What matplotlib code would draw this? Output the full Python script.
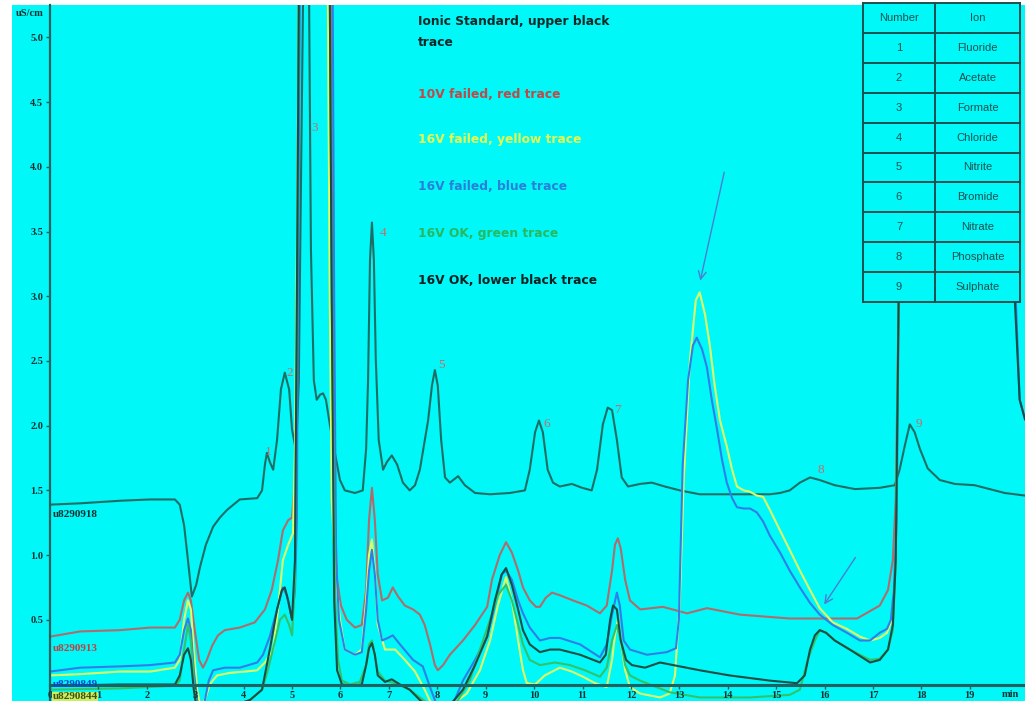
import numpy as np
import matplotlib
matplotlib.use("Agg")
import matplotlib.pyplot as plt
from matplotlib.patches import Rectangle

# ---------------- data (minutes, uS/cm) ----------------
upper_black = [(0, 1.39), (0.62, 1.40), (1.45, 1.42), (2.07, 1.43), (2.58, 1.43), (2.68, 1.39), (2.77, 1.23),
               (2.85, 0.96), (2.93, 0.68), (3.02, 0.77), (3.10, 0.91), (3.22, 1.08), (3.37, 1.22), (3.51, 1.29),
               (3.66, 1.35), (3.92, 1.43), (4.28, 1.44), (4.38, 1.50), (4.44, 1.70), (4.48, 1.79), (4.54, 1.72),
               (4.61, 1.66), (4.69, 1.89), (4.77, 2.28), (4.85, 2.41), (4.94, 2.28), (5.00, 1.97), (5.06, 1.85),
               (5.10, 1.97), (5.14, 2.35), (5.18, 3.74), (5.23, 5.40), (5.29, 5.80), (5.35, 5.40), (5.39, 3.36),
               (5.45, 2.35), (5.51, 2.20), (5.58, 2.24), (5.64, 2.25), (5.70, 2.20), (5.78, 2.01), (5.89, 1.78),
               (5.99, 1.58), (6.09, 1.50), (6.30, 1.48), (6.46, 1.50), (6.53, 1.82), (6.57, 2.35), (6.61, 3.28),
               (6.65, 3.57), (6.69, 3.28), (6.73, 2.51), (6.79, 1.89), (6.88, 1.66), (6.96, 1.72), (7.06, 1.77),
               (7.17, 1.70), (7.29, 1.56), (7.43, 1.50), (7.54, 1.54), (7.64, 1.66), (7.81, 2.04), (7.89, 2.31),
               (7.95, 2.43), (8.01, 2.31), (8.08, 1.89), (8.16, 1.60), (8.26, 1.56), (8.43, 1.61), (8.57, 1.54),
               (8.78, 1.48), (9.09, 1.47), (9.50, 1.48), (9.81, 1.50), (9.91, 1.66), (10.02, 1.95), (10.10, 2.04),
               (10.18, 1.95), (10.28, 1.66), (10.39, 1.56), (10.53, 1.53), (10.78, 1.55), (10.99, 1.52),
               (11.19, 1.50), (11.30, 1.66), (11.42, 2.01), (11.52, 2.14), (11.61, 2.12), (11.71, 1.89),
               (11.81, 1.60), (11.94, 1.53), (12.19, 1.55), (12.43, 1.56), (12.70, 1.53), (13.01, 1.50),
               (13.42, 1.47), (13.84, 1.47), (14.46, 1.47), (14.87, 1.47), (15.08, 1.48), (15.28, 1.50),
               (15.49, 1.56), (15.70, 1.60), (15.90, 1.58), (16.21, 1.54), (16.63, 1.51), (17.14, 1.52),
               (17.45, 1.54), (17.55, 1.66), (17.66, 1.85), (17.76, 2.01), (17.86, 1.95), (17.97, 1.82),
               (18.13, 1.67), (18.38, 1.58), (18.69, 1.55), (19.10, 1.54), (19.41, 1.51), (19.72, 1.48),
               (20.14, 1.46)]

red_10v = [(0, 0.37), (0.62, 0.41), (1.45, 0.42), (2.07, 0.44), (2.58, 0.44), (2.68, 0.50), (2.77, 0.65),
           (2.85, 0.71), (2.91, 0.65), (2.99, 0.42), (3.08, 0.19), (3.16, 0.13), (3.24, 0.19), (3.35, 0.30),
           (3.47, 0.38), (3.61, 0.42), (3.92, 0.44), (4.23, 0.48), (4.44, 0.58), (4.58, 0.73), (4.71, 0.96),
           (4.81, 1.19), (4.92, 1.27), (5.00, 1.29), (5.06, 1.58), (5.10, 2.97), (5.14, 5.29), (5.45, 5.80),
           (5.80, 5.29), (5.84, 2.97), (5.89, 1.27), (5.93, 0.81), (6.01, 0.61), (6.13, 0.50), (6.30, 0.44),
           (6.44, 0.46), (6.53, 0.73), (6.59, 1.27), (6.65, 1.52), (6.71, 1.27), (6.77, 0.85), (6.86, 0.65),
           (6.98, 0.67), (7.08, 0.75), (7.19, 0.68), (7.33, 0.61), (7.50, 0.58), (7.64, 0.54), (7.74, 0.46),
           (7.85, 0.31), (7.95, 0.15), (8.01, 0.11), (8.12, 0.15), (8.26, 0.23), (8.53, 0.34), (8.78, 0.46),
           (9.03, 0.60), (9.13, 0.81), (9.29, 1.00), (9.42, 1.10), (9.54, 1.02), (9.67, 0.88), (9.77, 0.75),
           (9.91, 0.65), (10.04, 0.60), (10.12, 0.60), (10.24, 0.67), (10.37, 0.71), (10.53, 0.69),
           (10.80, 0.65), (11.09, 0.61), (11.36, 0.55), (11.50, 0.61), (11.61, 0.88), (11.67, 1.08),
           (11.73, 1.13), (11.79, 1.05), (11.88, 0.81), (11.98, 0.65), (12.19, 0.58), (12.66, 0.60),
           (13.16, 0.55), (13.57, 0.59), (14.25, 0.54), (15.28, 0.51), (16.67, 0.51), (17.14, 0.61),
           (17.31, 0.73), (17.41, 0.96), (17.47, 1.43), (17.53, 2.97), (17.58, 5.29), (17.70, 5.80),
           (20.14, 5.80)]

yellow_16v = [(0, 0.07), (0.62, 0.08), (1.45, 0.10), (2.07, 0.10), (2.58, 0.13), (2.68, 0.19), (2.77, 0.50),
              (2.85, 0.65), (2.91, 0.58), (2.97, 0.27), (3.04, -0.04), (3.10, -0.16), (3.20, -0.12),
              (3.30, 0.00), (3.45, 0.07), (3.72, 0.09), (4.03, 0.10), (4.28, 0.11), (4.44, 0.17), (4.61, 0.27),
              (4.71, 0.58), (4.81, 0.96), (4.92, 1.08), (5.02, 1.17), (5.06, 1.82), (5.10, 3.36), (5.14, 5.29),
              (5.45, 5.80), (5.74, 5.29), (5.78, 2.97), (5.82, 1.43), (5.89, 0.88), (5.99, 0.50), (6.09, 0.27),
              (6.30, 0.23), (6.44, 0.27), (6.53, 0.65), (6.59, 1.00), (6.65, 1.12), (6.71, 0.88), (6.77, 0.46),
              (6.92, 0.27), (7.13, 0.27), (7.33, 0.19), (7.54, 0.10), (7.74, -0.04), (7.89, -0.16),
              (8.16, -0.20), (8.43, -0.12), (8.61, -0.07), (8.88, 0.11), (9.09, 0.34), (9.25, 0.61),
              (9.42, 0.83), (9.54, 0.65), (9.67, 0.34), (9.77, 0.11), (9.85, 0.01), (10.02, 0.00),
              (10.22, 0.07), (10.53, 0.13), (10.78, 0.10), (11.01, 0.06), (11.26, 0.01), (11.50, -0.02),
              (11.61, 0.19), (11.67, 0.38), (11.73, 0.50), (11.79, 0.34), (11.88, 0.11), (11.98, -0.02),
              (12.19, -0.07), (12.60, -0.10), (12.80, -0.07), (12.91, 0.07), (13.01, 0.65), (13.09, 1.58),
              (13.22, 2.51), (13.34, 2.97), (13.42, 3.03), (13.53, 2.86), (13.63, 2.62), (13.73, 2.31),
              (13.84, 2.04), (13.98, 1.84), (14.09, 1.66), (14.19, 1.53), (14.33, 1.50), (14.46, 1.49),
              (14.60, 1.46), (14.73, 1.45), (14.87, 1.35), (15.08, 1.19), (15.28, 1.04), (15.49, 0.88),
              (15.70, 0.73), (15.90, 0.59), (16.17, 0.48), (16.46, 0.43), (16.73, 0.37), (16.94, 0.34),
              (17.14, 0.36), (17.29, 0.40), (17.39, 0.50), (17.47, 0.96), (17.53, 2.97), (17.58, 5.29),
              (17.70, 5.80), (20.14, 5.80)]

blue_16v = [(0, 0.10), (0.62, 0.13), (1.45, 0.14), (2.07, 0.15), (2.58, 0.17), (2.68, 0.23), (2.77, 0.42),
            (2.85, 0.51), (2.91, 0.42), (2.97, 0.11), (3.04, -0.12), (3.10, -0.23), (3.18, -0.16),
            (3.28, 0.03), (3.37, 0.11), (3.61, 0.13), (3.92, 0.13), (4.28, 0.17), (4.40, 0.23), (4.54, 0.37),
            (4.69, 0.58), (4.81, 0.75), (4.89, 0.69), (5.00, 0.50), (5.06, 0.73), (5.10, 1.27), (5.12, 2.97),
            (5.16, 5.29), (5.45, 5.80), (5.84, 5.29), (5.87, 2.97), (5.91, 0.96), (5.97, 0.50), (6.09, 0.27),
            (6.30, 0.23), (6.44, 0.25), (6.53, 0.58), (6.59, 0.88), (6.65, 1.04), (6.71, 0.85), (6.77, 0.50),
            (6.86, 0.34), (6.98, 0.36), (7.08, 0.38), (7.23, 0.31), (7.50, 0.19), (7.70, 0.14),
            (7.85, -0.02), (7.99, -0.16), (8.16, -0.20), (8.36, -0.12), (8.53, 0.03), (8.78, 0.19),
            (9.03, 0.37), (9.19, 0.61), (9.33, 0.85), (9.42, 0.88), (9.54, 0.81), (9.67, 0.65), (9.77, 0.55),
            (9.91, 0.44), (10.12, 0.34), (10.33, 0.36), (10.53, 0.36), (10.95, 0.31), (11.36, 0.21),
            (11.50, 0.31), (11.61, 0.54), (11.71, 0.71), (11.77, 0.61), (11.85, 0.34), (11.98, 0.27),
            (12.33, 0.23), (12.74, 0.25), (12.93, 0.28), (12.99, 0.50), (13.07, 1.70), (13.18, 2.35),
            (13.28, 2.62), (13.36, 2.68), (13.47, 2.59), (13.57, 2.45), (13.67, 2.20), (13.78, 1.97),
            (13.88, 1.74), (13.98, 1.56), (14.09, 1.44), (14.19, 1.37), (14.33, 1.36), (14.46, 1.36),
            (14.60, 1.33), (14.73, 1.26), (14.87, 1.15), (15.08, 1.02), (15.28, 0.88), (15.49, 0.75),
            (15.70, 0.63), (15.90, 0.54), (16.17, 0.46), (16.46, 0.40), (16.73, 0.34), (16.94, 0.34),
            (17.14, 0.40), (17.29, 0.43), (17.37, 0.50), (17.43, 0.73), (17.49, 1.27), (17.53, 2.97),
            (17.58, 5.29), (17.70, 5.80), (19.87, 5.80), (19.95, 2.97), (20.03, 2.20), (20.14, 2.05)]

green_16v_ok = [(0, -0.04), (1.45, -0.03), (2.58, -0.01), (2.68, 0.03), (2.77, 0.27), (2.85, 0.46),
                (2.91, 0.34), (2.97, 0.03), (3.04, -0.20), (3.41, -0.21), (4.13, -0.12), (4.38, -0.04),
                (4.50, 0.11), (4.65, 0.34), (4.75, 0.50), (4.85, 0.54), (4.94, 0.46), (5.00, 0.38),
                (5.06, 0.81), (5.10, 2.97), (5.14, 5.29), (5.45, 5.80), (5.78, 5.29), (5.82, 2.97),
                (5.89, 0.65), (5.95, 0.19), (6.03, 0.03), (6.20, 0.00), (6.40, 0.02), (6.53, 0.15),
                (6.59, 0.31), (6.65, 0.34), (6.71, 0.23), (6.77, 0.10), (6.92, 0.03), (7.13, 0.01),
                (7.43, -0.04), (7.85, -0.16), (8.16, -0.21), (8.43, -0.12), (8.67, 0.03), (8.88, 0.27),
                (9.09, 0.50), (9.25, 0.69), (9.42, 0.77), (9.54, 0.65), (9.67, 0.46), (9.77, 0.31),
                (9.91, 0.19), (10.12, 0.15), (10.43, 0.17), (10.74, 0.15), (11.05, 0.11), (11.36, 0.06),
                (11.50, 0.13), (11.61, 0.34), (11.71, 0.46), (11.79, 0.34), (11.88, 0.15), (11.98, 0.07),
                (12.19, 0.03), (12.39, 0.00), (12.80, -0.06), (13.42, -0.10), (14.46, -0.10), (15.28, -0.08),
                (15.49, -0.04), (15.65, 0.19), (15.80, 0.34), (15.90, 0.42), (16.03, 0.40), (16.21, 0.34),
                (16.52, 0.27), (16.94, 0.19), (17.14, 0.20), (17.31, 0.27), (17.41, 0.42), (17.47, 0.96),
                (17.53, 2.97), (17.58, 5.29), (17.70, 5.80), (20.14, 5.80)]

lower_black = [(0, -0.01), (1.45, 0.00), (2.58, 0.00), (2.68, 0.07), (2.77, 0.23), (2.85, 0.28), (2.91, 0.19),
               (2.97, -0.04), (3.04, -0.21), (3.41, -0.21), (4.13, -0.12), (4.38, -0.04), (4.54, 0.27),
               (4.69, 0.58), (4.79, 0.73), (4.85, 0.75), (4.92, 0.65), (5.00, 0.50), (5.06, 0.96),
               (5.10, 2.97), (5.14, 5.29), (5.45, 5.80), (5.78, 5.29), (5.82, 2.97), (5.87, 0.65),
               (5.93, 0.11), (6.03, 0.00), (6.24, -0.01), (6.44, 0.00), (6.53, 0.15), (6.59, 0.28),
               (6.65, 0.32), (6.71, 0.23), (6.77, 0.07), (6.92, 0.02), (7.06, 0.04), (7.23, 0.00),
               (7.43, -0.04), (7.64, -0.12), (7.95, -0.21), (8.26, -0.16), (8.53, -0.04), (8.78, 0.15),
               (9.03, 0.37), (9.19, 0.65), (9.33, 0.85), (9.42, 0.90), (9.54, 0.77), (9.67, 0.58),
               (9.77, 0.42), (9.91, 0.31), (10.12, 0.25), (10.33, 0.27), (10.53, 0.27), (10.95, 0.23),
               (11.36, 0.17), (11.48, 0.23), (11.57, 0.50), (11.63, 0.61), (11.71, 0.58), (11.79, 0.34),
               (11.90, 0.19), (12.02, 0.15), (12.29, 0.13), (12.60, 0.17), (13.01, 0.14), (13.42, 0.11),
               (14.04, 0.07), (14.87, 0.03), (15.43, 0.01), (15.59, 0.07), (15.70, 0.27), (15.80, 0.38),
               (15.90, 0.42), (16.03, 0.40), (16.21, 0.34), (16.52, 0.27), (16.94, 0.17), (17.14, 0.19),
               (17.31, 0.27), (17.41, 0.46), (17.47, 0.96), (17.53, 2.97), (17.58, 5.29), (17.70, 5.80),
               (19.83, 5.80), (19.93, 2.97), (20.03, 2.20), (20.14, 2.05)]

peak_labels = ["1", "2", "3", "4", "5", "6", "7", "8", "9"]
peak_label_pos = [(4.50, 1.80), (4.96, 2.41), (5.47, 4.30), (6.88, 3.49), (8.08, 2.47),
                  (10.26, 2.01), (11.73, 2.12), (15.92, 1.66), (17.95, 2.01)]

ion_numbers = ["1", "2", "3", "4", "5", "6", "7", "8", "9"]
ion_names = ["Fluoride", "Acetate", "Formate", "Chloride", "Nitrite", "Bromide", "Nitrate",
             "Phosphate", "Sulphate"]

legend_lines = ["Ionic Standard, upper black", "trace", "10V failed, red trace",
                "16V failed, yellow trace", "16V failed, blue trace", "16V OK, green trace",
                "16V OK, lower black trace"]

y_ticks = [0.5, 1.0, 1.5, 2.0, 2.5, 3.0, 3.5, 4.0, 4.5, 5.0]
x_ticks = list(range(0, 20))

# ---------------- figure ----------------
W, H = 1025, 701
fig = plt.figure(figsize=(W / 100, H / 100), dpi=100, facecolor="white")
CYAN = "#00f8f8"
fig.patches.append(Rectangle((12 / W, 0), 1 - 12 / W, 1 - 5 / H, transform=fig.transFigure,
                             facecolor=CYAN, edgecolor="none", zorder=-10))

ax = fig.add_axes([50 / W, 0, 975 / W, 696 / H])
ax.set_facecolor(CYAN)
ax.set_xlim(0, 20.14)
ax.set_ylim(-0.1275, 5.251)
ax.set_axisbelow(False)

AXC = "#1f6060"
TXC = "#163030"
for s in ["top", "right"]:
    ax.spines[s].set_visible(False)
ax.spines["left"].set_color(AXC)
ax.spines["left"].set_linewidth(1.6)
ax.spines["bottom"].set_position(("data", 0))
ax.spines["bottom"].set_color(AXC)
ax.spines["bottom"].set_linewidth(2.2)

tickfont = dict(family="Liberation Serif", weight="bold", size=7.5)
ax.set_yticks(y_ticks)
ax.set_yticklabels([f"{v:.1f}" for v in y_ticks], **tickfont, color=TXC)
ax.set_xticks(x_ticks)
ax.set_xticklabels([str(v) for v in x_ticks], **tickfont, color=TXC)
ax.tick_params(axis="both", direction="out", length=3, width=1, color=AXC, pad=2)
ax.text(19.83, -0.075, "min", ha="center", va="center", **tickfont, color=TXC, clip_on=False, zorder=4)
fig.text(30 / W, 1 - 14 / H, "uS/cm", ha="center", va="center", **tickfont, color=TXC)

series = [
    (upper_black, "#1e6e66"),
    (red_10v, "#b06c6c"),
    (yellow_16v, "#ddff66"),
    (blue_16v, "#2f7fe8"),
    (green_16v_ok, "#30c46a"),
    (lower_black, "#1a4d45"),
]
for pts, col in series:
    arr = np.array(pts)
    ax.plot(arr[:, 0], arr[:, 1], color=col, lw=1.5, solid_joinstyle="round", zorder=2)

# trace ids
lab = dict(family="Liberation Serif", weight="bold", size=8)
ax.text(0.05, 1.31, "u8290918", color="#103030", ha="left", va="center", **lab)
ax.text(0.05, 0.28, "u8290913", color="#c04040", ha="left", va="center", **lab)
ax.text(0.05, 0.00, "u8290849", color="#1040d0", ha="left", va="center", zorder=5, **lab)
ax.text(0.05, -0.095, "u8290844", color="#405010", ha="left", va="center", zorder=5,
        bbox=dict(facecolor="#c8f060", edgecolor="none", pad=0.6), **lab)

# peak numbers
for t, (px, py) in zip(peak_labels, peak_label_pos):
    ax.text(px, py, t, color="#c86a6a", fontsize=9.5, family="Liberation Serif", ha="center", va="center")

# arrows
arrow_col = "#4a7fd0"
ax.annotate("", xy=(13.42, 3.10), xytext=(13.94, 3.98),
            arrowprops=dict(arrowstyle="->", color=arrow_col, lw=1.0, mutation_scale=14))
ax.annotate("", xy=(15.96, 0.60), xytext=(16.67, 1.00),
            arrowprops=dict(arrowstyle="->", color=arrow_col, lw=1.0, mutation_scale=14))

# legend text block
leg_y = [22, 42, 94, 140, 186, 233, 280]
leg_c = ["#102828", "#102828", "#c04848", "#e4ff50", "#2a80d8", "#28b860", "#102020"]
for txt, yy, cc in zip(legend_lines, leg_y, leg_c):
    fig.text(418 / W, 1 - yy / H, txt, ha="left", va="center", color=cc,
             family="DejaVu Sans", weight="bold", fontsize=8.8)

# ion table (opaque, drawn over traces)
TC = "#1d4f4f"
x_l, x_m, x_r = 863, 935, 1020
y_top, row_h = 3, 29.9
n_rows = 10
y_bot = y_top + n_rows * row_h
fig.add_artist(Rectangle((x_l / W, 1 - y_bot / H), (x_r - x_l) / W, (y_bot - y_top) / H,
                         transform=fig.transFigure, facecolor=CYAN, edgecolor="none", zorder=5))
for i in range(n_rows + 1):
    yy = 1 - (y_top + i * row_h) / H
    fig.add_artist(plt.Line2D([x_l / W, x_r / W], [yy, yy], transform=fig.transFigure,
                              color=TC, lw=1.4, zorder=6))
for xx in (x_l, x_m, x_r):
    fig.add_artist(plt.Line2D([xx / W, xx / W], [1 - y_top / H, 1 - y_bot / H],
                              transform=fig.transFigure, color=TC, lw=1.4, zorder=6))
cells = [("Number", "Ion")] + list(zip(ion_numbers, ion_names))
for i, (a, b) in enumerate(cells):
    yc = 1 - (y_top + (i + 0.5) * row_h) / H
    fig.text((x_l + x_m) / 2 / W, yc, a, ha="center", va="center", color=TC,
             family="Liberation Sans", fontsize=8, zorder=7)
    fig.text((x_m + x_r) / 2 / W, yc, b, ha="center", va="center", color=TC,
             family="Liberation Sans", fontsize=8, zorder=7)

fig.savefig("out.png", dpi=100, facecolor="white")
